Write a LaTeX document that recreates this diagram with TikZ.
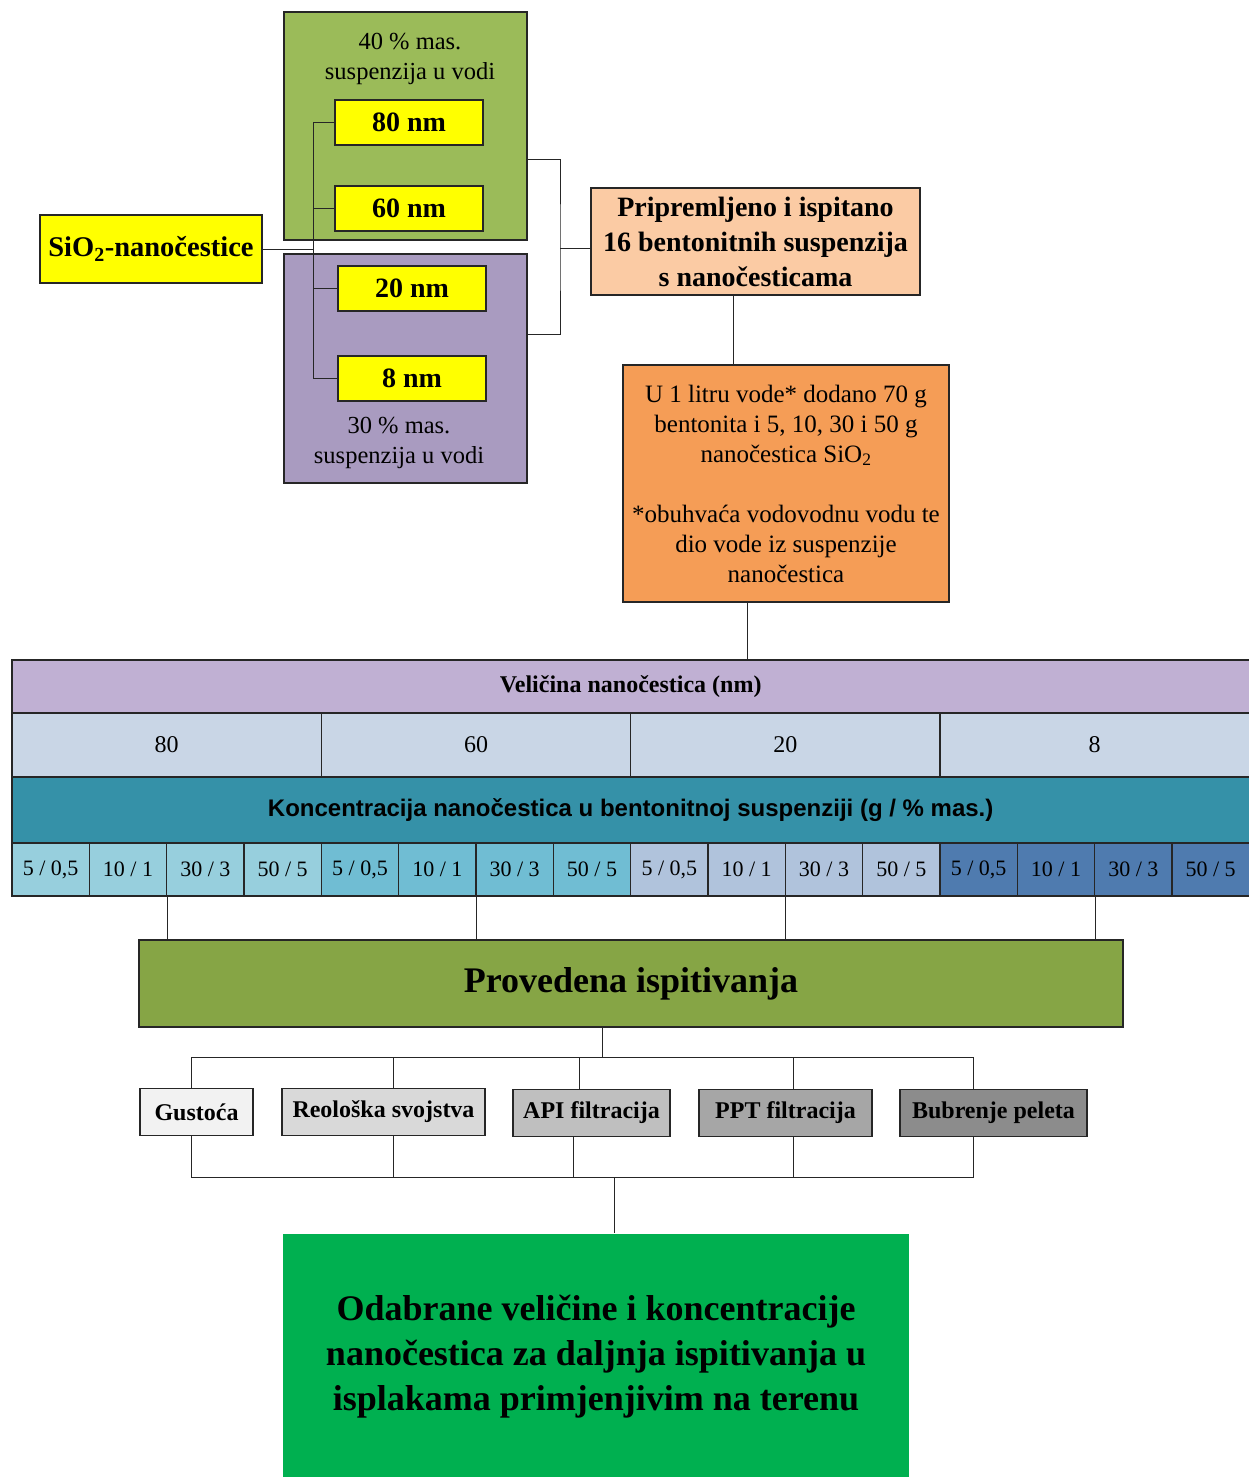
\documentclass[tikz,border=0pt]{standalone}
\usepackage{fontspec}
\setmainfont{Liberation Serif}
\newfontfamily\arialfont{Liberation Sans}
\usetikzlibrary{positioning, calc}

\definecolor{grpgreen}{HTML}{9BBB59}
\definecolor{grppurple}{HTML}{A99BC0}
\definecolor{nmyellow}{HTML}{FFFF00}
\definecolor{prepfill}{HTML}{FBCBA4}
\definecolor{infofill}{HTML}{F59D56}
\definecolor{hdrfill}{HTML}{C0B0D3}
\definecolor{sizefill}{HTML}{C9D6E6}
\definecolor{konfill}{HTML}{3591A8}
\definecolor{cellA}{HTML}{97CFDD}
\definecolor{cellB}{HTML}{70BDD3}
\definecolor{cellC}{HTML}{B0C3DC}
\definecolor{cellD}{HTML}{4F7BAF}
\definecolor{provfill}{HTML}{86A545}
\definecolor{finalfill}{HTML}{00B050}
\definecolor{testA}{HTML}{F2F2F2}
\definecolor{testB}{HTML}{D9D9D9}
\definecolor{testC}{HTML}{BFBFBF}
\definecolor{testD}{HTML}{A6A6A6}
\definecolor{testE}{HTML}{8C8C8C}

\newcommand{\fsz}[2]{\fontsize{#1}{#2}\selectfont}

\begin{document}
\begin{tikzpicture}[x=1pt, y=-1pt, line width=1.1pt,
    box/.style={rectangle, draw=black!85, inner sep=2pt, align=center},
    nmbox/.style={box, fill=nmyellow, minimum width=148, minimum height=45, font=\fsz{28}{30}\bfseries},
    tbl/.style={box, font=\fsz{24}{28}},
    test/.style={box, minimum height=47, font=\fsz{24}{28}\bfseries},
    link/.style={draw=black!85, line width=1pt}]

    \useasboundingbox (0,0) rectangle (1248,1477);

    % SiO2 source and the two suspensions
    \node[box, fill=grpgreen, minimum width=243, minimum height=228] at (405.5,126) (grp40) {};
    \node[box, fill=grppurple, minimum width=243, minimum height=229] at (405.5,368.5) (grp30) {};
    \node[align=center, font=\fsz{24.5}{30}] at (410,59) (lbl40) {40 \% mas.\\suspenzija u vodi};
    \node[align=center, font=\fsz{24.5}{30}] at (399,443) (lbl30) {30 \% mas.\\suspenzija u vodi};

    \node[nmbox] at (409,122.5) (n80) {80 nm};
    \node[nmbox] at (409,208.5) (n60) {60 nm};
    \node[nmbox] at (412,288.5) (n20) {20 nm};
    \node[nmbox] at (412,378.5) (n8) {8 nm};

    \node[box, fill=nmyellow, minimum width=222, minimum height=68, font=\fsz{28.5}{30}\bfseries] at (151,249) (sio) {SiO\textsubscript{2}-nanočestice};

    \coordinate (bus) at (313,0);
    \draw[link] (n80.west) -- (n80.west -| bus) -- (n8.west -| bus) -- (n8.west);
    \draw[link] (n60.west) -- (n60.west -| bus);
    \draw[link] (n20.west) -- (n20.west -| bus);
    \draw[link] (sio.east) -- (sio.east -| bus);

    % prepared suspensions
    \node[box, fill=prepfill, minimum width=329, minimum height=107, font=\fsz{28}{35}\bfseries] at (755.5,241.5) (prep) {Pripremljeno i ispitano\\16 bentonitnih suspenzija\\s nanočesticama};
    \node[box, fill=infofill, minimum width=326, minimum height=237, font=\fsz{25}{30}] at (786,483.5) (info) {U 1 litru vode* dodano 70 g\\bentonita i 5, 10, 30 i 50 g\\nanočestica SiO\textsubscript{2}\\[30pt]*obuhvaća vodovodnu vodu te\\dio vode iz suspenzije\\nanočestica};

    \coordinate (brk) at (560,248);
    \draw[link] ([yshift=81pt]grp40.south east) -| (brk) |- ([yshift=-81pt]grp30.north east);
    \draw[link] (brk) -- (brk -| prep.west);
    \draw[link] ([xshift=-22.5pt]prep.south) -- ([xshift=-22.5pt]prep.south |- info.north);

    % table of sizes and concentrations
    \node[tbl, fill=hdrfill, minimum width=1237.3, minimum height=53, font=\fsz{24}{28}\bfseries] at (630.65,686.5) (hdr) {Veličina nanočestica (nm)};
    \foreach \i/\s in {0/80, 1/60, 2/20, 3/8} {
        \node[tbl, fill=sizefill, minimum width=309.33, minimum height=64] at (12+154.67+309.33*\i,745) (S-\i) {\s};
    }
    \node[tbl, fill=konfill, minimum width=1237.3, minimum height=65, font=\arialfont\fsz{24}{28}\bfseries] at (630.65,810) (kon) {Koncentracija nanočestica u bentonitnoj suspenziji (g / \% mas.)};
    \foreach \g/\col in {0/cellA, 1/cellB, 2/cellC, 3/cellD} {
        \foreach \k/\txt in {0/{5 / 0,5}, 1/{10 / 1}, 2/{30 / 3}, 3/{50 / 5}} {
            \node[tbl, fill=\col, minimum width=77.33, minimum height=53, font=\fsz{22}{26}] at (12+38.67+309.33*\g+77.33*\k,869.5) (C-\g-\k) {\txt};
        }
    }

    \draw[link] ([xshift=-39pt]info.south) -- ([xshift=-39pt]info.south |- hdr.north);

    % tests
    \node[box, fill=provfill, minimum width=984, minimum height=87, font=\fsz{36}{40}\bfseries] at (631,983.5) (prov) {Provedena ispitivanja};
    \foreach \g in {0,...,3} {
        \draw[link] (C-\g-1.south east) -- (C-\g-1.south east |- prov.north);
    }

    \node[test, fill=testA, minimum width=113] at (196.5,1112) (gus) {Gustoća};
    \node[test, fill=testB, minimum width=203] at (383.5,1112) (reo) {Reološka svojstva};
    \node[test, fill=testC, minimum width=157] at (591.5,1113) (api) {API filtracija};
    \node[test, fill=testD, minimum width=173] at (785.5,1113) (ppt) {PPT filtracija};
    \node[test, fill=testE, minimum width=187] at (993.5,1113) (bub) {Bubrenje peleta};

    \coordinate (busA) at (602,1057);
    \coordinate (busB) at (614,1177);
    \draw[link] ([xshift=-29pt]prov.south) -- ([xshift=-29pt]prov.south |- busA);
    \draw[link] ([xshift=-5.5pt]gus.north) |- (busA) -| ([xshift=-20.5pt]bub.north);
    \draw[link] ([xshift=-5.5pt]gus.south) |- (busB) -| ([xshift=-20.5pt]bub.south);
    \foreach \t/\dx in {reo/9.5, api/-12.5, ppt/7.5} {
        \draw[link] ([xshift=\dx pt]\t.north) -- ([xshift=\dx pt]\t.north |- busA);
    }
    \foreach \t/\dx in {reo/9.5, api/-18.5, ppt/7.5} {
        \draw[link] ([xshift=\dx pt]\t.south) -- ([xshift=\dx pt]\t.south |- busB);
    }

    % result
    \node[rectangle, fill=finalfill, minimum width=626, minimum height=246, align=center, font=\fsz{36}{45}\bfseries] at (596,1357) (final) {Odabrane veličine i koncentracije\\nanočestica za daljnja ispitivanja u\\isplakama primjenjivim na terenu};
    \draw[link] (busB) -- (busB |- final.north);

\end{tikzpicture}
\end{document}
